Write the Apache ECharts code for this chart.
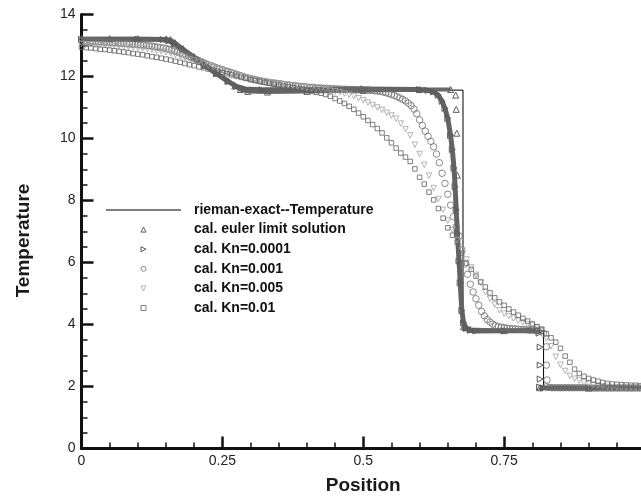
<!DOCTYPE html>
<html>
<head>
<meta charset="utf-8">
<script src="https://cdn.jsdelivr.net/npm/echarts@6/dist/echarts.min.js"></script>
<style>
  html, body { margin: 0; padding: 0; background: #fff; }
  #chart { width: 641px; height: 496px; }
</style>
</head>
<body>
<div id="chart"></div>
<script>
// Shock-tube temperature profiles: exact Riemann solution vs. computed results

// Exact solution (piecewise: left state, rarefaction, plateau, contact, plateau, shock)
const exactX = [0, 0.157, 0.18, 0.2, 0.22, 0.24, 0.26, 0.28, 0.287, 0.677, 0.677, 0.82, 0.82, 1];
const exactT = [13.22, 13.22, 12.92, 12.66, 12.4, 12.14, 11.88, 11.63, 11.56, 11.56, 3.8, 3.8, 1.93, 1.93];

// Euler limit solution (fine mesh; null marks a gap between the dense runs)
const eulerPts = [
  [0, 13.22], [0.05, 13.22], [0.1, 13.22], [0.15, 13.21], [0.158, 13.19], [0.166, 13.09],
  [0.18, 12.9], [0.2, 12.64], [0.22, 12.38], [0.24, 12.12], [0.26, 11.86], [0.272, 11.7],
  [0.282, 11.58], [0.295, 11.52], [0.33, 11.5], [0.4, 11.52], [0.5, 11.55], [0.6, 11.58],
  [0.655, 11.58], null,
  [0.664, 11.4], null, [0.665, 10.94], null, [0.666, 10.17], null, [0.667, 8.82], null,
  [0.678, 3.93], [0.69, 3.84], [0.75, 3.8], [0.812, 3.8], null,
  [0.813, 1.96], [0.9, 1.95], [1, 1.95]
];

// Kn = 0.0001 (fine mesh)
const kn0001Pts = [
  [0, 13.2], [0.1, 13.2], [0.145, 13.19], [0.155, 13.15], [0.165, 13.05], [0.18, 12.86],
  [0.2, 12.6], [0.22, 12.34], [0.24, 12.08], [0.26, 11.84], [0.275, 11.68], [0.29, 11.6],
  [0.32, 11.57], [0.4, 11.58], [0.5, 11.6], [0.6, 11.58], [0.615, 11.55], [0.625, 11.5],
  [0.633, 11.4], [0.64, 11.2], [0.645, 10.97], [0.65, 10.65], [0.655, 10.1], [0.658, 9.65],
  [0.661, 9.05], [0.663, 8.45], [0.665, 7.7], [0.667, 6.95], [0.67, 6.05], [0.672, 5.35],
  [0.675, 4.45], [0.678, 4.05], [0.683, 3.88], [0.69, 3.81], [0.7, 3.79], [0.75, 3.8],
  [0.8, 3.81], [0.81, 3.8], [0.812, 3.72], null,
  [0.814, 3.27], null, [0.814, 2.69], null, [0.814, 2.24], null,
  [0.813, 1.98], [0.82, 1.95], [0.9, 1.95], [1, 1.95]
];

// Kn = 0.001, mesh spacing 0.005
const kn001T = [
  13.15,13.15,13.14,13.14,13.13,13.13,13.12,13.12,13.11,13.11,
  13.10,13.09,13.09,13.08,13.07,13.07,13.06,13.05,13.04,13.04,
  13.03,13.02,13.01,13.00,12.99,12.98,12.96,12.95,12.93,12.92,
  12.90,12.88,12.85,12.82,12.79,12.76,12.72,12.69,12.65,12.62,
  12.58,12.54,12.50,12.46,12.42,12.38,12.35,12.31,12.28,12.25,
  12.22,12.19,12.16,12.13,12.10,12.07,12.04,12.01,11.98,11.96,
  11.93,11.91,11.89,11.87,11.85,11.83,11.82,11.80,11.79,11.78,
  11.77,11.76,11.74,11.73,11.72,11.71,11.70,11.69,11.68,11.67,
  11.66,11.65,11.65,11.64,11.63,11.63,11.62,11.62,11.61,11.61,
  11.60,11.60,11.59,11.59,11.59,11.58,11.58,11.58,11.57,11.57,
  11.57,11.56,11.56,11.55,11.54,11.53,11.52,11.50,11.48,11.45,
  11.42,11.39,11.35,11.31,11.26,11.21,11.14,11.06,10.95,10.80,
  10.60,10.42,10.24,10.07,9.91,9.73,9.50,9.22,8.88,8.55,
  8.20,7.85,7.48,7.15,6.85,6.40,5.95,5.62,5.30,5.05,
  4.83,4.62,4.42,4.28,4.16,4.08,4.01,3.96,3.93,3.91,
  3.90,3.88,3.87,3.86,3.86,3.85,3.84,3.84,3.83,3.83,
  3.82,3.82,3.81,3.80,3.72,1.99,1.97,1.96,1.96,1.96,
  1.96,1.96,1.96,1.96,1.96,1.96,1.96,1.96,1.96,1.96,
  1.95,1.95,1.95,1.95,1.95,1.95,1.95,1.95,1.95,1.95,
  1.95,1.95,1.95,1.95,1.95,1.95,1.95,1.95,1.95,1.95,
  1.95
];
const kn001Step = 0.005;
// points inside the shock for Kn = 0.001
const kn001ShockPts = [[0.825, 3.28], [0.825, 2.69], [0.826, 2.21]];

// Kn = 0.005, mesh spacing 1/120
const kn005T = [
  13.05,13.04,13.04,13.03,13.02,13.01,13.00,12.99,12.98,12.96,
  12.95,12.94,12.92,12.90,12.88,12.86,12.83,12.81,12.78,12.74,
  12.70,12.66,12.61,12.56,12.52,12.47,12.41,12.36,12.30,12.25,
  12.20,12.15,12.10,12.05,12.01,11.97,11.93,11.90,11.87,11.85,
  11.82,11.80,11.77,11.75,11.73,11.71,11.68,11.66,11.64,11.62,
  11.60,11.58,11.56,11.54,11.52,11.49,11.45,11.41,11.37,11.30,
  11.23,11.16,11.08,11.00,10.92,10.83,10.74,10.64,10.48,10.30,
  10.10,9.80,9.50,9.15,8.80,8.40,8.05,7.70,7.35,7.05,
  6.72,6.40,6.10,5.84,5.60,5.35,5.05,4.83,4.64,4.46,
  4.35,4.27,4.19,4.12,4.07,4.01,3.96,3.90,3.82,3.55,
  3.30,2.96,2.70,2.50,2.34,2.25,2.19,2.13,2.09,2.05,
  2.03,2.01,1.99,1.98,1.98,1.97,1.97,1.97,1.96,1.96,
  1.96
];

// Kn = 0.01, mesh spacing 1/120
const kn01T = [
  12.95,12.93,12.92,12.90,12.88,12.87,12.85,12.83,12.81,12.79,
  12.77,12.74,12.72,12.70,12.67,12.64,12.62,12.59,12.56,12.53,
  12.49,12.46,12.42,12.38,12.35,12.31,12.28,12.24,12.20,12.17,
  12.13,12.09,12.05,12.01,11.97,11.94,11.90,11.87,11.84,11.81,
  11.78,11.75,11.72,11.69,11.67,11.64,11.61,11.59,11.56,11.53,
  11.49,11.46,11.42,11.36,11.29,11.21,11.13,11.04,10.94,10.82,
  10.70,10.58,10.45,10.32,10.18,10.02,9.86,9.69,9.53,9.40,
  9.26,9.02,8.75,8.53,8.27,8.02,7.74,7.43,7.12,6.88,
  6.66,6.30,5.98,5.78,5.56,5.37,5.21,5.02,4.86,4.73,
  4.62,4.50,4.40,4.30,4.20,4.11,4.02,3.93,3.85,3.70,
  3.57,3.43,3.23,2.98,2.78,2.56,2.42,2.33,2.26,2.21,
  2.17,2.13,2.10,2.08,2.07,2.06,2.05,2.04,2.04,2.03,
  2.03
];
const coarseStep = 1 / 120;

const seriesNames = [
  'rieman-exact--Temperature',
  'cal. euler limit solution',
  'cal. Kn=0.0001',
  'cal. Kn=0.001',
  'cal. Kn=0.005',
  'cal. Kn=0.01'
];

// ---- build series data ----
const gap = p => (p === null ? [NaN, '-'] : p);
const onMesh = (vals, step) => vals.map((t, i) => [i * step, t]);

const exactData = exactX.map((x, i) => [x, exactT[i]]);
const eulerData = eulerPts.map(gap);
const kn0001Data = kn0001Pts.map(gap);
const kn001Data = onMesh(kn001T, kn001Step).concat(kn001ShockPts);
const kn005Data = onMesh(kn005T, coarseStep);
const kn01Data = onMesh(kn01T, coarseStep);

const FONT = '"Liberation Sans", Arial, Helvetica, sans-serif';
const UP_TRI = 'path://M5,0L10,10L0,10Z';
const RIGHT_TRI = 'path://M0,0L10,5L0,10Z';
const DOWN_TRI = 'path://M0,0L10,0L5,10Z';
const SQUARE = 'path://M0,0L10,0L10,10L0,10Z';
const hollow = c => ({ color: 'rgba(255,255,255,0)', borderColor: c, borderWidth: 1 });

const C_EULER = '#5e5e5e';
const C_KN0001 = '#5a5a5a';
const C_KN001 = '#6e6e6e';
const C_KN005 = '#a2a2a2';
const C_KN01 = '#626262';

const chart = echarts.init(document.getElementById('chart'), null, { renderer: 'canvas' });

chart.setOption({
  animation: false,
  backgroundColor: '#fff',
  grid: {
    left: 81.5, right: -4, top: 14.5, bottom: 47.5,
    containLabel: false,
    outerBoundsMode: 'none'
  },
  legend: {
    orient: 'vertical',
    left: 101,
    top: 198,
    itemWidth: 75,
    itemHeight: 5,
    itemGap: 5.6,
    selectedMode: false,
    textStyle: { fontFamily: FONT, fontWeight: 'bold', fontSize: 14, color: '#111', padding: [0, 0, 0, 8] },
    data: [
      { name: seriesNames[0], icon: 'path://M0,0L75,0L75,1L0,1Z', itemStyle: { color: '#000', borderWidth: 0 } },
      { name: seriesNames[1], icon: UP_TRI, itemStyle: hollow(C_EULER) },
      { name: seriesNames[2], icon: RIGHT_TRI, itemStyle: hollow(C_KN0001) },
      { name: seriesNames[3], icon: 'circle', itemStyle: hollow(C_KN001) },
      { name: seriesNames[4], icon: DOWN_TRI, itemStyle: hollow(C_KN005) },
      { name: seriesNames[5], icon: SQUARE, itemStyle: hollow(C_KN01) }
    ]
  },
  xAxis: {
    type: 'value',
    min: 0, max: 1, interval: 0.25,
    name: 'Position',
    nameLocation: 'middle',
    nameGap: 28,
    nameTextStyle: { fontFamily: FONT, fontWeight: 'bold', fontSize: 19, color: '#1a1a1a' },
    axisLine: { onZero: false, lineStyle: { color: '#111', width: 3 } },
    axisTick: { show: true, inside: true, length: 12, lineStyle: { color: '#111', width: 2.5 } },
    minorTick: { show: true, splitNumber: 5, length: 6, lineStyle: { color: '#111', width: 1.5 } },
    splitLine: { show: false },
    axisLabel: { fontFamily: FONT, fontSize: 14, color: '#222', margin: 6, showMaxLabel: false }
  },
  yAxis: {
    type: 'value',
    min: 0, max: 14, interval: 2,
    name: 'Temperature',
    nameLocation: 'middle',
    nameRotate: 90,
    nameGap: 48,
    nameTextStyle: { fontFamily: FONT, fontWeight: 'bold', fontSize: 19, color: '#1a1a1a', padding: [0, 18, 0, 0] },
    axisLine: { show: true, onZero: false, lineStyle: { color: '#111', width: 3 } },
    axisTick: { show: true, inside: true, length: 12, lineStyle: { color: '#111', width: 2.5 } },
    minorTick: { show: true, splitNumber: 4, length: 6, lineStyle: { color: '#111', width: 1.5 } },
    splitLine: { show: false },
    axisLabel: { fontFamily: FONT, fontSize: 14, color: '#222', margin: 6 }
  },
  series: [
    {
      name: seriesNames[0], type: 'line', data: exactData, symbol: 'none',
      lineStyle: { color: '#000', width: 1 }, itemStyle: { color: '#000' }, z: 1
    },
    {
      name: seriesNames[1], type: 'line', data: eulerData, showSymbol: true,
      symbol: UP_TRI, symbolSize: 6,
      lineStyle: { color: '#686868', width: 4 }, itemStyle: hollow(C_EULER), z: 2
    },
    {
      name: seriesNames[2], type: 'line', data: kn0001Data, showSymbol: true,
      symbol: RIGHT_TRI, symbolSize: 6,
      lineStyle: { color: '#636363', width: 5 }, itemStyle: hollow(C_KN0001), z: 2
    },
    {
      name: seriesNames[3], type: 'scatter', data: kn001Data,
      symbol: 'circle', symbolSize: 6.5, itemStyle: hollow(C_KN001), z: 3
    },
    {
      name: seriesNames[4], type: 'scatter', data: kn005Data,
      symbol: DOWN_TRI, symbolSize: 5.5, itemStyle: hollow(C_KN005), z: 3
    },
    {
      name: seriesNames[5], type: 'scatter', data: kn01Data,
      symbol: SQUARE, symbolSize: 4.5, itemStyle: hollow(C_KN01), z: 4
    }
  ]
});
</script>
</body>
</html>
